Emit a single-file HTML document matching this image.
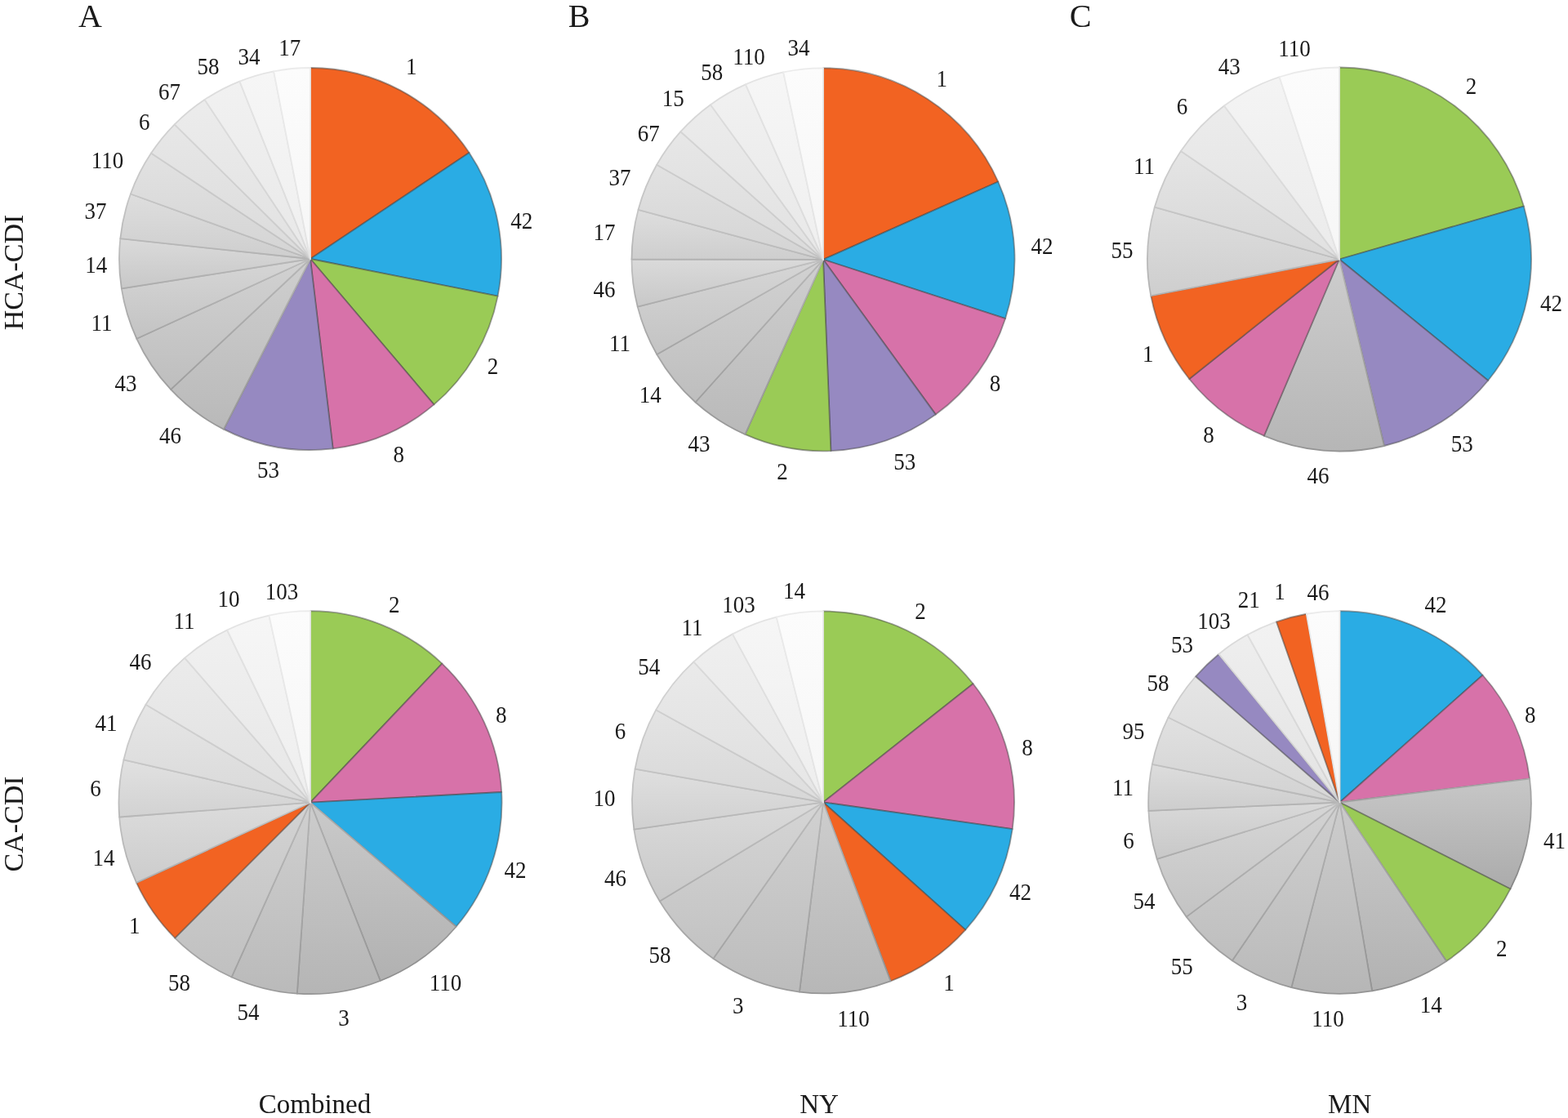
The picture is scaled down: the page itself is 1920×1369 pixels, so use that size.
<!DOCTYPE html>
<html><head><meta charset="utf-8"><title>Pie charts</title>
<style>
html,body{margin:0;padding:0;background:#fff;}
body{width:1920px;height:1369px;overflow:hidden;}
svg{display:block;}
text{font-family:"Liberation Serif",serif;fill:#1a1a1a;text-anchor:middle;}
.l{font-size:30px;}
.p{font-size:40px;}
.r{font-size:33px;}
.rv{font-size:34px;}
</style></head><body>
<svg width="1920" height="1369" viewBox="0 0 1920 1369">
<defs><linearGradient id="g1" x1="0" y1="0" x2="0" y2="1"><stop offset="0" stop-color="#cfcfcf"/><stop offset="1" stop-color="#b9b9b9"/></linearGradient><linearGradient id="g1s" x1="0" y1="0" x2="0" y2="1"><stop offset="0" stop-color="#b3b3b3"/><stop offset="1" stop-color="#989898"/></linearGradient><linearGradient id="g2" x1="0" y1="0" x2="0" y2="1"><stop offset="0" stop-color="#d2d2d2"/><stop offset="1" stop-color="#bebebe"/></linearGradient><linearGradient id="g2s" x1="0" y1="0" x2="0" y2="1"><stop offset="0" stop-color="#b7b7b7"/><stop offset="1" stop-color="#9e9e9e"/></linearGradient><linearGradient id="g3" x1="0" y1="0" x2="0" y2="1"><stop offset="0" stop-color="#d6d6d6"/><stop offset="1" stop-color="#c3c3c3"/></linearGradient><linearGradient id="g3s" x1="0" y1="0" x2="0" y2="1"><stop offset="0" stop-color="#bcbcbc"/><stop offset="1" stop-color="#a4a4a4"/></linearGradient><linearGradient id="g4" x1="0" y1="0" x2="0" y2="1"><stop offset="0" stop-color="#dadada"/><stop offset="1" stop-color="#c8c8c8"/></linearGradient><linearGradient id="g4s" x1="0" y1="0" x2="0" y2="1"><stop offset="0" stop-color="#c1c1c1"/><stop offset="1" stop-color="#ababab"/></linearGradient><linearGradient id="g5" x1="0" y1="0" x2="0" y2="1"><stop offset="0" stop-color="#dedede"/><stop offset="1" stop-color="#cecece"/></linearGradient><linearGradient id="g5s" x1="0" y1="0" x2="0" y2="1"><stop offset="0" stop-color="#c6c6c6"/><stop offset="1" stop-color="#b2b2b2"/></linearGradient><linearGradient id="g6" x1="0" y1="0" x2="0" y2="1"><stop offset="0" stop-color="#e2e2e2"/><stop offset="1" stop-color="#d4d4d4"/></linearGradient><linearGradient id="g6s" x1="0" y1="0" x2="0" y2="1"><stop offset="0" stop-color="#cbcbcb"/><stop offset="1" stop-color="#bababa"/></linearGradient><linearGradient id="g7" x1="0" y1="0" x2="0" y2="1"><stop offset="0" stop-color="#e7e7e7"/><stop offset="1" stop-color="#dbdbdb"/></linearGradient><linearGradient id="g7s" x1="0" y1="0" x2="0" y2="1"><stop offset="0" stop-color="#d1d1d1"/><stop offset="1" stop-color="#c2c2c2"/></linearGradient><linearGradient id="g8" x1="0" y1="0" x2="0" y2="1"><stop offset="0" stop-color="#ececec"/><stop offset="1" stop-color="#e1e1e1"/></linearGradient><linearGradient id="g8s" x1="0" y1="0" x2="0" y2="1"><stop offset="0" stop-color="#d7d7d7"/><stop offset="1" stop-color="#cacaca"/></linearGradient><linearGradient id="g9" x1="0" y1="0" x2="0" y2="1"><stop offset="0" stop-color="#f1f1f1"/><stop offset="1" stop-color="#e8e8e8"/></linearGradient><linearGradient id="g9s" x1="0" y1="0" x2="0" y2="1"><stop offset="0" stop-color="#dedede"/><stop offset="1" stop-color="#d2d2d2"/></linearGradient><linearGradient id="g10" x1="0" y1="0" x2="0" y2="1"><stop offset="0" stop-color="#f6f6f6"/><stop offset="1" stop-color="#efefef"/></linearGradient><linearGradient id="g10s" x1="0" y1="0" x2="0" y2="1"><stop offset="0" stop-color="#e4e4e4"/><stop offset="1" stop-color="#dbdbdb"/></linearGradient><linearGradient id="g11" x1="0" y1="0" x2="0" y2="1"><stop offset="0" stop-color="#fcfcfc"/><stop offset="1" stop-color="#f6f6f6"/></linearGradient><linearGradient id="g11s" x1="0" y1="0" x2="0" y2="1"><stop offset="0" stop-color="#ebebeb"/><stop offset="1" stop-color="#e4e4e4"/></linearGradient><linearGradient id="g12" x1="0" y1="0" x2="0" y2="1"><stop offset="0" stop-color="#cfcfcf"/><stop offset="1" stop-color="#b9b9b9"/></linearGradient><linearGradient id="g12s" x1="0" y1="0" x2="0" y2="1"><stop offset="0" stop-color="#b3b3b3"/><stop offset="1" stop-color="#989898"/></linearGradient><linearGradient id="g13" x1="0" y1="0" x2="0" y2="1"><stop offset="0" stop-color="#d2d2d2"/><stop offset="1" stop-color="#bebebe"/></linearGradient><linearGradient id="g13s" x1="0" y1="0" x2="0" y2="1"><stop offset="0" stop-color="#b7b7b7"/><stop offset="1" stop-color="#9e9e9e"/></linearGradient><linearGradient id="g14" x1="0" y1="0" x2="0" y2="1"><stop offset="0" stop-color="#d6d6d6"/><stop offset="1" stop-color="#c3c3c3"/></linearGradient><linearGradient id="g14s" x1="0" y1="0" x2="0" y2="1"><stop offset="0" stop-color="#bcbcbc"/><stop offset="1" stop-color="#a4a4a4"/></linearGradient><linearGradient id="g15" x1="0" y1="0" x2="0" y2="1"><stop offset="0" stop-color="#dadada"/><stop offset="1" stop-color="#c8c8c8"/></linearGradient><linearGradient id="g15s" x1="0" y1="0" x2="0" y2="1"><stop offset="0" stop-color="#c1c1c1"/><stop offset="1" stop-color="#ababab"/></linearGradient><linearGradient id="g16" x1="0" y1="0" x2="0" y2="1"><stop offset="0" stop-color="#dedede"/><stop offset="1" stop-color="#cecece"/></linearGradient><linearGradient id="g16s" x1="0" y1="0" x2="0" y2="1"><stop offset="0" stop-color="#c6c6c6"/><stop offset="1" stop-color="#b2b2b2"/></linearGradient><linearGradient id="g17" x1="0" y1="0" x2="0" y2="1"><stop offset="0" stop-color="#e2e2e2"/><stop offset="1" stop-color="#d4d4d4"/></linearGradient><linearGradient id="g17s" x1="0" y1="0" x2="0" y2="1"><stop offset="0" stop-color="#cbcbcb"/><stop offset="1" stop-color="#bababa"/></linearGradient><linearGradient id="g18" x1="0" y1="0" x2="0" y2="1"><stop offset="0" stop-color="#e7e7e7"/><stop offset="1" stop-color="#dbdbdb"/></linearGradient><linearGradient id="g18s" x1="0" y1="0" x2="0" y2="1"><stop offset="0" stop-color="#d1d1d1"/><stop offset="1" stop-color="#c2c2c2"/></linearGradient><linearGradient id="g19" x1="0" y1="0" x2="0" y2="1"><stop offset="0" stop-color="#ececec"/><stop offset="1" stop-color="#e1e1e1"/></linearGradient><linearGradient id="g19s" x1="0" y1="0" x2="0" y2="1"><stop offset="0" stop-color="#d7d7d7"/><stop offset="1" stop-color="#cacaca"/></linearGradient><linearGradient id="g20" x1="0" y1="0" x2="0" y2="1"><stop offset="0" stop-color="#f1f1f1"/><stop offset="1" stop-color="#e8e8e8"/></linearGradient><linearGradient id="g20s" x1="0" y1="0" x2="0" y2="1"><stop offset="0" stop-color="#dedede"/><stop offset="1" stop-color="#d2d2d2"/></linearGradient><linearGradient id="g21" x1="0" y1="0" x2="0" y2="1"><stop offset="0" stop-color="#f6f6f6"/><stop offset="1" stop-color="#efefef"/></linearGradient><linearGradient id="g21s" x1="0" y1="0" x2="0" y2="1"><stop offset="0" stop-color="#e4e4e4"/><stop offset="1" stop-color="#dbdbdb"/></linearGradient><linearGradient id="g22" x1="0" y1="0" x2="0" y2="1"><stop offset="0" stop-color="#fcfcfc"/><stop offset="1" stop-color="#f6f6f6"/></linearGradient><linearGradient id="g22s" x1="0" y1="0" x2="0" y2="1"><stop offset="0" stop-color="#ebebeb"/><stop offset="1" stop-color="#e4e4e4"/></linearGradient><linearGradient id="g23" x1="0" y1="0" x2="0" y2="1"><stop offset="0" stop-color="#cdcdcd"/><stop offset="1" stop-color="#b6b6b6"/></linearGradient><linearGradient id="g23s" x1="0" y1="0" x2="0" y2="1"><stop offset="0" stop-color="#b1b1b1"/><stop offset="1" stop-color="#959595"/></linearGradient><linearGradient id="g24" x1="0" y1="0" x2="0" y2="1"><stop offset="0" stop-color="#dedede"/><stop offset="1" stop-color="#cecece"/></linearGradient><linearGradient id="g24s" x1="0" y1="0" x2="0" y2="1"><stop offset="0" stop-color="#c6c6c6"/><stop offset="1" stop-color="#b2b2b2"/></linearGradient><linearGradient id="g25" x1="0" y1="0" x2="0" y2="1"><stop offset="0" stop-color="#e5e5e5"/><stop offset="1" stop-color="#d7d7d7"/></linearGradient><linearGradient id="g25s" x1="0" y1="0" x2="0" y2="1"><stop offset="0" stop-color="#cecece"/><stop offset="1" stop-color="#bebebe"/></linearGradient><linearGradient id="g26" x1="0" y1="0" x2="0" y2="1"><stop offset="0" stop-color="#ececec"/><stop offset="1" stop-color="#e1e1e1"/></linearGradient><linearGradient id="g26s" x1="0" y1="0" x2="0" y2="1"><stop offset="0" stop-color="#d7d7d7"/><stop offset="1" stop-color="#cacaca"/></linearGradient><linearGradient id="g27" x1="0" y1="0" x2="0" y2="1"><stop offset="0" stop-color="#f4f4f4"/><stop offset="1" stop-color="#ebebeb"/></linearGradient><linearGradient id="g27s" x1="0" y1="0" x2="0" y2="1"><stop offset="0" stop-color="#e1e1e1"/><stop offset="1" stop-color="#d7d7d7"/></linearGradient><linearGradient id="g28" x1="0" y1="0" x2="0" y2="1"><stop offset="0" stop-color="#fcfcfc"/><stop offset="1" stop-color="#f6f6f6"/></linearGradient><linearGradient id="g28s" x1="0" y1="0" x2="0" y2="1"><stop offset="0" stop-color="#ebebeb"/><stop offset="1" stop-color="#e4e4e4"/></linearGradient><linearGradient id="g29" x1="0" y1="0" x2="0" y2="1"><stop offset="0" stop-color="#cacaca"/><stop offset="1" stop-color="#b1b1b1"/></linearGradient><linearGradient id="g29s" x1="0" y1="0" x2="0" y2="1"><stop offset="0" stop-color="#adadad"/><stop offset="1" stop-color="#8e8e8e"/></linearGradient><linearGradient id="g30" x1="0" y1="0" x2="0" y2="1"><stop offset="0" stop-color="#cccccc"/><stop offset="1" stop-color="#b5b5b5"/></linearGradient><linearGradient id="g30s" x1="0" y1="0" x2="0" y2="1"><stop offset="0" stop-color="#b0b0b0"/><stop offset="1" stop-color="#949494"/></linearGradient><linearGradient id="g31" x1="0" y1="0" x2="0" y2="1"><stop offset="0" stop-color="#d0d0d0"/><stop offset="1" stop-color="#bababa"/></linearGradient><linearGradient id="g31s" x1="0" y1="0" x2="0" y2="1"><stop offset="0" stop-color="#b4b4b4"/><stop offset="1" stop-color="#9a9a9a"/></linearGradient><linearGradient id="g32" x1="0" y1="0" x2="0" y2="1"><stop offset="0" stop-color="#d3d3d3"/><stop offset="1" stop-color="#c0c0c0"/></linearGradient><linearGradient id="g32s" x1="0" y1="0" x2="0" y2="1"><stop offset="0" stop-color="#b9b9b9"/><stop offset="1" stop-color="#a1a1a1"/></linearGradient><linearGradient id="g33" x1="0" y1="0" x2="0" y2="1"><stop offset="0" stop-color="#dcdcdc"/><stop offset="1" stop-color="#cccccc"/></linearGradient><linearGradient id="g33s" x1="0" y1="0" x2="0" y2="1"><stop offset="0" stop-color="#c3c3c3"/><stop offset="1" stop-color="#afafaf"/></linearGradient><linearGradient id="g34" x1="0" y1="0" x2="0" y2="1"><stop offset="0" stop-color="#e1e1e1"/><stop offset="1" stop-color="#d2d2d2"/></linearGradient><linearGradient id="g34s" x1="0" y1="0" x2="0" y2="1"><stop offset="0" stop-color="#c9c9c9"/><stop offset="1" stop-color="#b7b7b7"/></linearGradient><linearGradient id="g35" x1="0" y1="0" x2="0" y2="1"><stop offset="0" stop-color="#e6e6e6"/><stop offset="1" stop-color="#d9d9d9"/></linearGradient><linearGradient id="g35s" x1="0" y1="0" x2="0" y2="1"><stop offset="0" stop-color="#cfcfcf"/><stop offset="1" stop-color="#c0c0c0"/></linearGradient><linearGradient id="g36" x1="0" y1="0" x2="0" y2="1"><stop offset="0" stop-color="#ebebeb"/><stop offset="1" stop-color="#e0e0e0"/></linearGradient><linearGradient id="g36s" x1="0" y1="0" x2="0" y2="1"><stop offset="0" stop-color="#d6d6d6"/><stop offset="1" stop-color="#c8c8c8"/></linearGradient><linearGradient id="g37" x1="0" y1="0" x2="0" y2="1"><stop offset="0" stop-color="#f0f0f0"/><stop offset="1" stop-color="#e7e7e7"/></linearGradient><linearGradient id="g37s" x1="0" y1="0" x2="0" y2="1"><stop offset="0" stop-color="#dddddd"/><stop offset="1" stop-color="#d1d1d1"/></linearGradient><linearGradient id="g38" x1="0" y1="0" x2="0" y2="1"><stop offset="0" stop-color="#f6f6f6"/><stop offset="1" stop-color="#eeeeee"/></linearGradient><linearGradient id="g38s" x1="0" y1="0" x2="0" y2="1"><stop offset="0" stop-color="#e4e4e4"/><stop offset="1" stop-color="#dadada"/></linearGradient><linearGradient id="g39" x1="0" y1="0" x2="0" y2="1"><stop offset="0" stop-color="#fcfcfc"/><stop offset="1" stop-color="#f6f6f6"/></linearGradient><linearGradient id="g39s" x1="0" y1="0" x2="0" y2="1"><stop offset="0" stop-color="#ebebeb"/><stop offset="1" stop-color="#e4e4e4"/></linearGradient><linearGradient id="g40" x1="0" y1="0" x2="0" y2="1"><stop offset="0" stop-color="#cdcdcd"/><stop offset="1" stop-color="#b7b7b7"/></linearGradient><linearGradient id="g40s" x1="0" y1="0" x2="0" y2="1"><stop offset="0" stop-color="#b2b2b2"/><stop offset="1" stop-color="#959595"/></linearGradient><linearGradient id="g41" x1="0" y1="0" x2="0" y2="1"><stop offset="0" stop-color="#d1d1d1"/><stop offset="1" stop-color="#bcbcbc"/></linearGradient><linearGradient id="g41s" x1="0" y1="0" x2="0" y2="1"><stop offset="0" stop-color="#b6b6b6"/><stop offset="1" stop-color="#9c9c9c"/></linearGradient><linearGradient id="g42" x1="0" y1="0" x2="0" y2="1"><stop offset="0" stop-color="#d5d5d5"/><stop offset="1" stop-color="#c2c2c2"/></linearGradient><linearGradient id="g42s" x1="0" y1="0" x2="0" y2="1"><stop offset="0" stop-color="#bbbbbb"/><stop offset="1" stop-color="#a4a4a4"/></linearGradient><linearGradient id="g43" x1="0" y1="0" x2="0" y2="1"><stop offset="0" stop-color="#dadada"/><stop offset="1" stop-color="#c9c9c9"/></linearGradient><linearGradient id="g43s" x1="0" y1="0" x2="0" y2="1"><stop offset="0" stop-color="#c1c1c1"/><stop offset="1" stop-color="#acacac"/></linearGradient><linearGradient id="g44" x1="0" y1="0" x2="0" y2="1"><stop offset="0" stop-color="#dfdfdf"/><stop offset="1" stop-color="#d0d0d0"/></linearGradient><linearGradient id="g44s" x1="0" y1="0" x2="0" y2="1"><stop offset="0" stop-color="#c7c7c7"/><stop offset="1" stop-color="#b4b4b4"/></linearGradient><linearGradient id="g45" x1="0" y1="0" x2="0" y2="1"><stop offset="0" stop-color="#e4e4e4"/><stop offset="1" stop-color="#d7d7d7"/></linearGradient><linearGradient id="g45s" x1="0" y1="0" x2="0" y2="1"><stop offset="0" stop-color="#cecece"/><stop offset="1" stop-color="#bdbdbd"/></linearGradient><linearGradient id="g46" x1="0" y1="0" x2="0" y2="1"><stop offset="0" stop-color="#eaeaea"/><stop offset="1" stop-color="#dedede"/></linearGradient><linearGradient id="g46s" x1="0" y1="0" x2="0" y2="1"><stop offset="0" stop-color="#d4d4d4"/><stop offset="1" stop-color="#c6c6c6"/></linearGradient><linearGradient id="g47" x1="0" y1="0" x2="0" y2="1"><stop offset="0" stop-color="#efefef"/><stop offset="1" stop-color="#e6e6e6"/></linearGradient><linearGradient id="g47s" x1="0" y1="0" x2="0" y2="1"><stop offset="0" stop-color="#dcdcdc"/><stop offset="1" stop-color="#d0d0d0"/></linearGradient><linearGradient id="g48" x1="0" y1="0" x2="0" y2="1"><stop offset="0" stop-color="#f6f6f6"/><stop offset="1" stop-color="#eeeeee"/></linearGradient><linearGradient id="g48s" x1="0" y1="0" x2="0" y2="1"><stop offset="0" stop-color="#e3e3e3"/><stop offset="1" stop-color="#dadada"/></linearGradient><linearGradient id="g49" x1="0" y1="0" x2="0" y2="1"><stop offset="0" stop-color="#fcfcfc"/><stop offset="1" stop-color="#f6f6f6"/></linearGradient><linearGradient id="g49s" x1="0" y1="0" x2="0" y2="1"><stop offset="0" stop-color="#ebebeb"/><stop offset="1" stop-color="#e4e4e4"/></linearGradient><linearGradient id="g50" x1="0" y1="0" x2="0" y2="1"><stop offset="0" stop-color="#c7c7c7"/><stop offset="1" stop-color="#ababab"/></linearGradient><linearGradient id="g50s" x1="0" y1="0" x2="0" y2="1"><stop offset="0" stop-color="#a9a9a9"/><stop offset="1" stop-color="#878787"/></linearGradient><linearGradient id="g51" x1="0" y1="0" x2="0" y2="1"><stop offset="0" stop-color="#cacaca"/><stop offset="1" stop-color="#b2b2b2"/></linearGradient><linearGradient id="g51s" x1="0" y1="0" x2="0" y2="1"><stop offset="0" stop-color="#aeaeae"/><stop offset="1" stop-color="#909090"/></linearGradient><linearGradient id="g52" x1="0" y1="0" x2="0" y2="1"><stop offset="0" stop-color="#cdcdcd"/><stop offset="1" stop-color="#b6b6b6"/></linearGradient><linearGradient id="g52s" x1="0" y1="0" x2="0" y2="1"><stop offset="0" stop-color="#b1b1b1"/><stop offset="1" stop-color="#949494"/></linearGradient><linearGradient id="g53" x1="0" y1="0" x2="0" y2="1"><stop offset="0" stop-color="#d0d0d0"/><stop offset="1" stop-color="#bababa"/></linearGradient><linearGradient id="g53s" x1="0" y1="0" x2="0" y2="1"><stop offset="0" stop-color="#b4b4b4"/><stop offset="1" stop-color="#999999"/></linearGradient><linearGradient id="g54" x1="0" y1="0" x2="0" y2="1"><stop offset="0" stop-color="#d3d3d3"/><stop offset="1" stop-color="#bebebe"/></linearGradient><linearGradient id="g54s" x1="0" y1="0" x2="0" y2="1"><stop offset="0" stop-color="#b8b8b8"/><stop offset="1" stop-color="#9f9f9f"/></linearGradient><linearGradient id="g55" x1="0" y1="0" x2="0" y2="1"><stop offset="0" stop-color="#d6d6d6"/><stop offset="1" stop-color="#c3c3c3"/></linearGradient><linearGradient id="g55s" x1="0" y1="0" x2="0" y2="1"><stop offset="0" stop-color="#bcbcbc"/><stop offset="1" stop-color="#a5a5a5"/></linearGradient><linearGradient id="g56" x1="0" y1="0" x2="0" y2="1"><stop offset="0" stop-color="#d9d9d9"/><stop offset="1" stop-color="#c8c8c8"/></linearGradient><linearGradient id="g56s" x1="0" y1="0" x2="0" y2="1"><stop offset="0" stop-color="#c0c0c0"/><stop offset="1" stop-color="#ababab"/></linearGradient><linearGradient id="g57" x1="0" y1="0" x2="0" y2="1"><stop offset="0" stop-color="#dddddd"/><stop offset="1" stop-color="#cdcdcd"/></linearGradient><linearGradient id="g57s" x1="0" y1="0" x2="0" y2="1"><stop offset="0" stop-color="#c5c5c5"/><stop offset="1" stop-color="#b1b1b1"/></linearGradient><linearGradient id="g58" x1="0" y1="0" x2="0" y2="1"><stop offset="0" stop-color="#e1e1e1"/><stop offset="1" stop-color="#d2d2d2"/></linearGradient><linearGradient id="g58s" x1="0" y1="0" x2="0" y2="1"><stop offset="0" stop-color="#cacaca"/><stop offset="1" stop-color="#b8b8b8"/></linearGradient><linearGradient id="g59" x1="0" y1="0" x2="0" y2="1"><stop offset="0" stop-color="#e5e5e5"/><stop offset="1" stop-color="#d8d8d8"/></linearGradient><linearGradient id="g59s" x1="0" y1="0" x2="0" y2="1"><stop offset="0" stop-color="#cfcfcf"/><stop offset="1" stop-color="#bfbfbf"/></linearGradient><linearGradient id="g60" x1="0" y1="0" x2="0" y2="1"><stop offset="0" stop-color="#eeeeee"/><stop offset="1" stop-color="#e3e3e3"/></linearGradient><linearGradient id="g60s" x1="0" y1="0" x2="0" y2="1"><stop offset="0" stop-color="#dadada"/><stop offset="1" stop-color="#cdcdcd"/></linearGradient><linearGradient id="g61" x1="0" y1="0" x2="0" y2="1"><stop offset="0" stop-color="#f2f2f2"/><stop offset="1" stop-color="#e9e9e9"/></linearGradient><linearGradient id="g61s" x1="0" y1="0" x2="0" y2="1"><stop offset="0" stop-color="#dfdfdf"/><stop offset="1" stop-color="#d4d4d4"/></linearGradient><linearGradient id="g62" x1="0" y1="0" x2="0" y2="1"><stop offset="0" stop-color="#fcfcfc"/><stop offset="1" stop-color="#f6f6f6"/></linearGradient><linearGradient id="g62s" x1="0" y1="0" x2="0" y2="1"><stop offset="0" stop-color="#ebebeb"/><stop offset="1" stop-color="#e4e4e4"/></linearGradient></defs>
<rect width="1920" height="1369" fill="#fff"/>
<g><path d="M380.00 317.00L380.00 83.00A234.00 234.00 0 0 1 574.54 186.97Z" fill="#f26322" stroke="rgba(70,70,70,0.5)" stroke-width="1.8" stroke-linejoin="round"/><path d="M380.00 317.00L574.54 186.97A234.00 234.00 0 0 1 609.51 362.62Z" fill="#2aace4" stroke="rgba(70,70,70,0.5)" stroke-width="1.8" stroke-linejoin="round"/><path d="M380.00 317.00L609.51 362.62A234.00 234.00 0 0 1 531.39 495.43Z" fill="#9acb56" stroke="rgba(70,70,70,0.5)" stroke-width="1.8" stroke-linejoin="round"/><path d="M380.00 317.00L531.39 495.43A234.00 234.00 0 0 1 407.68 549.36Z" fill="#d772a9" stroke="rgba(70,70,70,0.5)" stroke-width="1.8" stroke-linejoin="round"/><path d="M380.00 317.00L407.68 549.36A234.00 234.00 0 0 1 273.95 525.59Z" fill="#9689c1" stroke="rgba(70,70,70,0.5)" stroke-width="1.8" stroke-linejoin="round"/><path d="M380.00 317.00L273.95 525.59A234.00 234.00 0 0 1 209.18 476.93Z" fill="url(#g1)" stroke="url(#g1s)" stroke-width="1.8" stroke-linejoin="round"/><path d="M380.00 317.00L209.18 476.93A234.00 234.00 0 0 1 167.39 414.75Z" fill="url(#g2)" stroke="url(#g2s)" stroke-width="1.8" stroke-linejoin="round"/><path d="M380.00 317.00L167.39 414.75A234.00 234.00 0 0 1 148.85 353.40Z" fill="url(#g3)" stroke="url(#g3s)" stroke-width="1.8" stroke-linejoin="round"/><path d="M380.00 317.00L148.85 353.40A234.00 234.00 0 0 1 147.32 292.21Z" fill="url(#g4)" stroke="url(#g4s)" stroke-width="1.8" stroke-linejoin="round"/><path d="M380.00 317.00L147.32 292.21A234.00 234.00 0 0 1 159.92 237.48Z" fill="url(#g5)" stroke="url(#g5s)" stroke-width="1.8" stroke-linejoin="round"/><path d="M380.00 317.00L159.92 237.48A234.00 234.00 0 0 1 185.05 187.57Z" fill="url(#g6)" stroke="url(#g6s)" stroke-width="1.8" stroke-linejoin="round"/><path d="M380.00 317.00L185.05 187.57A234.00 234.00 0 0 1 213.78 152.30Z" fill="url(#g7)" stroke="url(#g7s)" stroke-width="1.8" stroke-linejoin="round"/><path d="M380.00 317.00L213.78 152.30A234.00 234.00 0 0 1 250.62 122.02Z" fill="url(#g8)" stroke="url(#g8s)" stroke-width="1.8" stroke-linejoin="round"/><path d="M380.00 317.00L250.62 122.02A234.00 234.00 0 0 1 293.43 99.60Z" fill="url(#g9)" stroke="url(#g9s)" stroke-width="1.8" stroke-linejoin="round"/><path d="M380.00 317.00L293.43 99.60A234.00 234.00 0 0 1 335.19 87.33Z" fill="url(#g10)" stroke="url(#g10s)" stroke-width="1.8" stroke-linejoin="round"/><path d="M380.00 317.00L335.19 87.33A234.00 234.00 0 0 1 380.00 83.00Z" fill="url(#g11)" stroke="url(#g11s)" stroke-width="1.8" stroke-linejoin="round"/></g>
<text transform="translate(354.7 67.9) scale(0.9 1)" class="l">17</text>
<text transform="translate(304.9 79.2) scale(0.9 1)" class="l">34</text>
<text transform="translate(255.0 91.4) scale(0.9 1)" class="l">58</text>
<text transform="translate(207.5 122.2) scale(0.9 1)" class="l">67</text>
<text transform="translate(176.7 158.5) scale(0.9 1)" class="l">6</text>
<text transform="translate(131.4 206.0) scale(0.9 1)" class="l">110</text>
<text transform="translate(116.9 268.1) scale(0.9 1)" class="l">37</text>
<text transform="translate(117.8 334.2) scale(0.9 1)" class="l">14</text>
<text transform="translate(124.6 404.5) scale(0.9 1)" class="l">11</text>
<text transform="translate(154.0 478.7) scale(0.9 1)" class="l">43</text>
<text transform="translate(208.4 542.6) scale(0.9 1)" class="l">46</text>
<text transform="translate(328.4 585.2) scale(0.9 1)" class="l">53</text>
<text transform="translate(488.3 566.2) scale(0.9 1)" class="l">8</text>
<text transform="translate(603.4 458.4) scale(0.9 1)" class="l">2</text>
<text transform="translate(638.7 279.9) scale(0.9 1)" class="l">42</text>
<text transform="translate(503.7 90.5) scale(0.9 1)" class="l">1</text>
<g><path d="M1008.00 317.80L1008.00 83.30A234.50 234.50 0 0 1 1222.27 222.51Z" fill="#f26322" stroke="rgba(70,70,70,0.5)" stroke-width="1.8" stroke-linejoin="round"/><path d="M1008.00 317.80L1222.27 222.51A234.50 234.50 0 0 1 1231.09 390.05Z" fill="#2aace4" stroke="rgba(70,70,70,0.5)" stroke-width="1.8" stroke-linejoin="round"/><path d="M1008.00 317.80L1231.09 390.05A234.50 234.50 0 0 1 1145.72 507.60Z" fill="#d772a9" stroke="rgba(70,70,70,0.5)" stroke-width="1.8" stroke-linejoin="round"/><path d="M1008.00 317.80L1145.72 507.60A234.50 234.50 0 0 1 1017.38 552.11Z" fill="#9689c1" stroke="rgba(70,70,70,0.5)" stroke-width="1.8" stroke-linejoin="round"/><path d="M1008.00 317.80L1017.38 552.11A234.50 234.50 0 0 1 912.39 531.92Z" fill="#9acb56" stroke="rgba(70,70,70,0.5)" stroke-width="1.8" stroke-linejoin="round"/><path d="M1008.00 317.80L912.39 531.92A234.50 234.50 0 0 1 851.56 492.49Z" fill="url(#g12)" stroke="url(#g12s)" stroke-width="1.8" stroke-linejoin="round"/><path d="M1008.00 317.80L851.56 492.49A234.50 234.50 0 0 1 804.35 434.06Z" fill="url(#g13)" stroke="url(#g13s)" stroke-width="1.8" stroke-linejoin="round"/><path d="M1008.00 317.80L804.35 434.06A234.50 234.50 0 0 1 780.73 375.57Z" fill="url(#g14)" stroke="url(#g14s)" stroke-width="1.8" stroke-linejoin="round"/><path d="M1008.00 317.80L780.73 375.57A234.50 234.50 0 0 1 773.50 317.50Z" fill="url(#g15)" stroke="url(#g15s)" stroke-width="1.8" stroke-linejoin="round"/><path d="M1008.00 317.80L773.50 317.50A234.50 234.50 0 0 1 781.54 256.92Z" fill="url(#g16)" stroke="url(#g16s)" stroke-width="1.8" stroke-linejoin="round"/><path d="M1008.00 317.80L781.54 256.92A234.50 234.50 0 0 1 804.21 201.78Z" fill="url(#g17)" stroke="url(#g17s)" stroke-width="1.8" stroke-linejoin="round"/><path d="M1008.00 317.80L804.21 201.78A234.50 234.50 0 0 1 833.45 161.21Z" fill="url(#g18)" stroke="url(#g18s)" stroke-width="1.8" stroke-linejoin="round"/><path d="M1008.00 317.80L833.45 161.21A234.50 234.50 0 0 1 870.04 128.18Z" fill="url(#g19)" stroke="url(#g19s)" stroke-width="1.8" stroke-linejoin="round"/><path d="M1008.00 317.80L870.04 128.18A234.50 234.50 0 0 1 912.98 103.41Z" fill="url(#g20)" stroke="url(#g20s)" stroke-width="1.8" stroke-linejoin="round"/><path d="M1008.00 317.80L912.98 103.41A234.50 234.50 0 0 1 959.25 88.42Z" fill="url(#g21)" stroke="url(#g21s)" stroke-width="1.8" stroke-linejoin="round"/><path d="M1008.00 317.80L959.25 88.42A234.50 234.50 0 0 1 1008.00 83.30Z" fill="url(#g22)" stroke="url(#g22s)" stroke-width="1.8" stroke-linejoin="round"/></g>
<text transform="translate(1153.3 105.8) scale(0.9 1)" class="l">1</text>
<text transform="translate(1276.0 311.0) scale(0.9 1)" class="l">42</text>
<text transform="translate(1218.6 479.2) scale(0.9 1)" class="l">8</text>
<text transform="translate(1107.7 575.0) scale(0.9 1)" class="l">53</text>
<text transform="translate(958.0 587.0) scale(0.9 1)" class="l">2</text>
<text transform="translate(855.9 553.3) scale(0.9 1)" class="l">43</text>
<text transform="translate(796.2 492.5) scale(0.9 1)" class="l">14</text>
<text transform="translate(759.0 429.8) scale(0.9 1)" class="l">11</text>
<text transform="translate(740.0 364.0) scale(0.9 1)" class="l">46</text>
<text transform="translate(740.0 294.0) scale(0.9 1)" class="l">17</text>
<text transform="translate(759.0 226.6) scale(0.9 1)" class="l">37</text>
<text transform="translate(794.3 172.7) scale(0.9 1)" class="l">67</text>
<text transform="translate(824.3 129.8) scale(0.9 1)" class="l">15</text>
<text transform="translate(871.8 97.5) scale(0.9 1)" class="l">58</text>
<text transform="translate(917.0 79.0) scale(0.9 1)" class="l">110</text>
<text transform="translate(978.0 67.6) scale(0.9 1)" class="l">34</text>
<g><path d="M1640.00 317.50L1640.00 82.50A235.00 235.00 0 0 1 1865.85 252.55Z" fill="#9acb56" stroke="rgba(70,70,70,0.5)" stroke-width="1.8" stroke-linejoin="round"/><path d="M1640.00 317.50L1865.85 252.55A235.00 235.00 0 0 1 1822.12 466.02Z" fill="#2aace4" stroke="rgba(70,70,70,0.5)" stroke-width="1.8" stroke-linejoin="round"/><path d="M1640.00 317.50L1822.12 466.02A235.00 235.00 0 0 1 1694.91 546.00Z" fill="#9689c1" stroke="rgba(70,70,70,0.5)" stroke-width="1.8" stroke-linejoin="round"/><path d="M1640.00 317.50L1694.91 546.00A235.00 235.00 0 0 1 1547.86 533.68Z" fill="url(#g23)" stroke="url(#g23s)" stroke-width="1.8" stroke-linejoin="round"/><path d="M1640.00 317.50L1547.86 533.68A235.00 235.00 0 0 1 1456.21 463.95Z" fill="#d772a9" stroke="rgba(70,70,70,0.5)" stroke-width="1.8" stroke-linejoin="round"/><path d="M1640.00 317.50L1456.21 463.95A235.00 235.00 0 0 1 1409.29 362.21Z" fill="#f26322" stroke="rgba(70,70,70,0.5)" stroke-width="1.8" stroke-linejoin="round"/><path d="M1640.00 317.50L1409.29 362.21A235.00 235.00 0 0 1 1413.85 253.60Z" fill="url(#g24)" stroke="url(#g24s)" stroke-width="1.8" stroke-linejoin="round"/><path d="M1640.00 317.50L1413.85 253.60A235.00 235.00 0 0 1 1445.96 184.93Z" fill="url(#g25)" stroke="url(#g25s)" stroke-width="1.8" stroke-linejoin="round"/><path d="M1640.00 317.50L1445.96 184.93A235.00 235.00 0 0 1 1499.00 129.50Z" fill="url(#g26)" stroke="url(#g26s)" stroke-width="1.8" stroke-linejoin="round"/><path d="M1640.00 317.50L1499.00 129.50A235.00 235.00 0 0 1 1566.65 94.24Z" fill="url(#g27)" stroke="url(#g27s)" stroke-width="1.8" stroke-linejoin="round"/><path d="M1640.00 317.50L1566.65 94.24A235.00 235.00 0 0 1 1640.00 82.50Z" fill="url(#g28)" stroke="url(#g28s)" stroke-width="1.8" stroke-linejoin="round"/></g>
<text transform="translate(1801.6 115.3) scale(0.9 1)" class="l">2</text>
<text transform="translate(1899.4 381.0) scale(0.9 1)" class="l">42</text>
<text transform="translate(1790.2 553.3) scale(0.9 1)" class="l">53</text>
<text transform="translate(1614.0 592.0) scale(0.9 1)" class="l">46</text>
<text transform="translate(1479.9 541.9) scale(0.9 1)" class="l">8</text>
<text transform="translate(1405.8 443.1) scale(0.9 1)" class="l">1</text>
<text transform="translate(1374.0 316.0) scale(0.9 1)" class="l">55</text>
<text transform="translate(1400.9 212.6) scale(0.9 1)" class="l">11</text>
<text transform="translate(1447.6 140.4) scale(0.9 1)" class="l">6</text>
<text transform="translate(1505.3 91.0) scale(0.9 1)" class="l">43</text>
<text transform="translate(1585.0 69.0) scale(0.9 1)" class="l">110</text>
<g><path d="M380.00 982.70L380.00 748.20A234.50 234.50 0 0 1 541.34 812.53Z" fill="#9acb56" stroke="rgba(70,70,70,0.5)" stroke-width="1.8" stroke-linejoin="round"/><path d="M380.00 982.70L541.34 812.53A234.50 234.50 0 0 1 614.15 969.98Z" fill="#d772a9" stroke="rgba(70,70,70,0.5)" stroke-width="1.8" stroke-linejoin="round"/><path d="M380.00 982.70L614.15 969.98A234.50 234.50 0 0 1 558.52 1134.76Z" fill="#2aace4" stroke="rgba(70,70,70,0.5)" stroke-width="1.8" stroke-linejoin="round"/><path d="M380.00 982.70L558.52 1134.76A234.50 234.50 0 0 1 465.68 1200.99Z" fill="url(#g29)" stroke="url(#g29s)" stroke-width="1.8" stroke-linejoin="round"/><path d="M380.00 982.70L465.68 1200.99A234.50 234.50 0 0 1 363.79 1216.64Z" fill="url(#g30)" stroke="url(#g30s)" stroke-width="1.8" stroke-linejoin="round"/><path d="M380.00 982.70L363.79 1216.64A234.50 234.50 0 0 1 283.63 1196.48Z" fill="url(#g31)" stroke="url(#g31s)" stroke-width="1.8" stroke-linejoin="round"/><path d="M380.00 982.70L283.63 1196.48A234.50 234.50 0 0 1 214.23 1148.57Z" fill="url(#g32)" stroke="url(#g32s)" stroke-width="1.8" stroke-linejoin="round"/><path d="M380.00 982.70L214.23 1148.57A234.50 234.50 0 0 1 167.06 1080.91Z" fill="#f26322" stroke="rgba(70,70,70,0.5)" stroke-width="1.8" stroke-linejoin="round"/><path d="M380.00 982.70L167.06 1080.91A234.50 234.50 0 0 1 146.18 1000.49Z" fill="url(#g33)" stroke="url(#g33s)" stroke-width="1.8" stroke-linejoin="round"/><path d="M380.00 982.70L146.18 1000.49A234.50 234.50 0 0 1 151.42 930.33Z" fill="url(#g34)" stroke="url(#g34s)" stroke-width="1.8" stroke-linejoin="round"/><path d="M380.00 982.70L151.42 930.33A234.50 234.50 0 0 1 178.52 862.72Z" fill="url(#g35)" stroke="url(#g35s)" stroke-width="1.8" stroke-linejoin="round"/><path d="M380.00 982.70L178.52 862.72A234.50 234.50 0 0 1 226.21 805.67Z" fill="url(#g36)" stroke="url(#g36s)" stroke-width="1.8" stroke-linejoin="round"/><path d="M380.00 982.70L226.21 805.67A234.50 234.50 0 0 1 278.10 771.50Z" fill="url(#g37)" stroke="url(#g37s)" stroke-width="1.8" stroke-linejoin="round"/><path d="M380.00 982.70L278.10 771.50A234.50 234.50 0 0 1 329.47 753.71Z" fill="url(#g38)" stroke="url(#g38s)" stroke-width="1.8" stroke-linejoin="round"/><path d="M380.00 982.70L329.47 753.71A234.50 234.50 0 0 1 380.00 748.20Z" fill="url(#g39)" stroke="url(#g39s)" stroke-width="1.8" stroke-linejoin="round"/></g>
<text transform="translate(482.7 750.0) scale(0.9 1)" class="l">2</text>
<text transform="translate(613.8 884.8) scale(0.9 1)" class="l">8</text>
<text transform="translate(631.0 1075.0) scale(0.9 1)" class="l">42</text>
<text transform="translate(545.4 1213.4) scale(0.9 1)" class="l">110</text>
<text transform="translate(421.0 1256.0) scale(0.9 1)" class="l">3</text>
<text transform="translate(304.0 1249.0) scale(0.9 1)" class="l">54</text>
<text transform="translate(219.5 1213.4) scale(0.9 1)" class="l">58</text>
<text transform="translate(164.8 1143.1) scale(0.9 1)" class="l">1</text>
<text transform="translate(127.0 1060.0) scale(0.9 1)" class="l">14</text>
<text transform="translate(117.0 975.0) scale(0.9 1)" class="l">6</text>
<text transform="translate(130.0 895.0) scale(0.9 1)" class="l">41</text>
<text transform="translate(172.0 820.2) scale(0.9 1)" class="l">46</text>
<text transform="translate(225.6 770.1) scale(0.9 1)" class="l">11</text>
<text transform="translate(280.0 743.0) scale(0.9 1)" class="l">10</text>
<text transform="translate(345.0 734.3) scale(0.9 1)" class="l">103</text>
<g><path d="M1008.00 982.40L1008.00 748.40A234.00 234.00 0 0 1 1191.57 837.29Z" fill="#9acb56" stroke="rgba(70,70,70,0.5)" stroke-width="1.8" stroke-linejoin="round"/><path d="M1008.00 982.40L1191.57 837.29A234.00 234.00 0 0 1 1239.71 1015.04Z" fill="#d772a9" stroke="rgba(70,70,70,0.5)" stroke-width="1.8" stroke-linejoin="round"/><path d="M1008.00 982.40L1239.71 1015.04A234.00 234.00 0 0 1 1182.19 1138.65Z" fill="#2aace4" stroke="rgba(70,70,70,0.5)" stroke-width="1.8" stroke-linejoin="round"/><path d="M1008.00 982.40L1182.19 1138.65A234.00 234.00 0 0 1 1090.49 1201.38Z" fill="#f26322" stroke="rgba(70,70,70,0.5)" stroke-width="1.8" stroke-linejoin="round"/><path d="M1008.00 982.40L1090.49 1201.38A234.00 234.00 0 0 1 978.95 1214.59Z" fill="url(#g40)" stroke="url(#g40s)" stroke-width="1.8" stroke-linejoin="round"/><path d="M1008.00 982.40L978.95 1214.59A234.00 234.00 0 0 1 873.42 1173.83Z" fill="url(#g41)" stroke="url(#g41s)" stroke-width="1.8" stroke-linejoin="round"/><path d="M1008.00 982.40L873.42 1173.83A234.00 234.00 0 0 1 807.83 1103.59Z" fill="url(#g42)" stroke="url(#g42s)" stroke-width="1.8" stroke-linejoin="round"/><path d="M1008.00 982.40L807.83 1103.59A234.00 234.00 0 0 1 776.37 1015.62Z" fill="url(#g43)" stroke="url(#g43s)" stroke-width="1.8" stroke-linejoin="round"/><path d="M1008.00 982.40L776.37 1015.62A234.00 234.00 0 0 1 777.57 941.69Z" fill="url(#g44)" stroke="url(#g44s)" stroke-width="1.8" stroke-linejoin="round"/><path d="M1008.00 982.40L777.57 941.69A234.00 234.00 0 0 1 803.14 869.32Z" fill="url(#g45)" stroke="url(#g45s)" stroke-width="1.8" stroke-linejoin="round"/><path d="M1008.00 982.40L803.14 869.32A234.00 234.00 0 0 1 849.42 810.32Z" fill="url(#g46)" stroke="url(#g46s)" stroke-width="1.8" stroke-linejoin="round"/><path d="M1008.00 982.40L849.42 810.32A234.00 234.00 0 0 1 897.02 776.39Z" fill="url(#g47)" stroke="url(#g47s)" stroke-width="1.8" stroke-linejoin="round"/><path d="M1008.00 982.40L897.02 776.39A234.00 234.00 0 0 1 950.75 755.51Z" fill="url(#g48)" stroke="url(#g48s)" stroke-width="1.8" stroke-linejoin="round"/><path d="M1008.00 982.40L950.75 755.51A234.00 234.00 0 0 1 1008.00 748.40Z" fill="url(#g49)" stroke="url(#g49s)" stroke-width="1.8" stroke-linejoin="round"/></g>
<text transform="translate(1127.1 757.9) scale(0.9 1)" class="l">2</text>
<text transform="translate(1258.0 925.0) scale(0.9 1)" class="l">8</text>
<text transform="translate(1249.4 1101.7) scale(0.9 1)" class="l">42</text>
<text transform="translate(1162.0 1213.4) scale(0.9 1)" class="l">1</text>
<text transform="translate(1045.0 1257.0) scale(0.9 1)" class="l">110</text>
<text transform="translate(903.7 1241.1) scale(0.9 1)" class="l">3</text>
<text transform="translate(808.0 1179.2) scale(0.9 1)" class="l">58</text>
<text transform="translate(753.5 1085.0) scale(0.9 1)" class="l">46</text>
<text transform="translate(740.0 987.0) scale(0.9 1)" class="l">10</text>
<text transform="translate(759.4 904.9) scale(0.9 1)" class="l">6</text>
<text transform="translate(794.7 826.3) scale(0.9 1)" class="l">54</text>
<text transform="translate(847.5 777.7) scale(0.9 1)" class="l">11</text>
<text transform="translate(904.5 750.0) scale(0.9 1)" class="l">103</text>
<text transform="translate(972.5 733.0) scale(0.9 1)" class="l">14</text>
<g><path d="M1640.50 982.50L1640.50 748.20A234.30 234.30 0 0 1 1815.54 826.75Z" fill="#2aace4" stroke="rgba(70,70,70,0.5)" stroke-width="1.8" stroke-linejoin="round"/><path d="M1640.50 982.50L1815.54 826.75A234.30 234.30 0 0 1 1873.01 953.56Z" fill="#d772a9" stroke="rgba(70,70,70,0.5)" stroke-width="1.8" stroke-linejoin="round"/><path d="M1640.50 982.50L1873.01 953.56A234.30 234.30 0 0 1 1849.48 1088.45Z" fill="url(#g50)" stroke="url(#g50s)" stroke-width="1.8" stroke-linejoin="round"/><path d="M1640.50 982.50L1849.48 1088.45A234.30 234.30 0 0 1 1771.02 1177.08Z" fill="#9acb56" stroke="rgba(70,70,70,0.5)" stroke-width="1.8" stroke-linejoin="round"/><path d="M1640.50 982.50L1771.02 1177.08A234.30 234.30 0 0 1 1680.15 1213.42Z" fill="url(#g51)" stroke="url(#g51s)" stroke-width="1.8" stroke-linejoin="round"/><path d="M1640.50 982.50L1680.15 1213.42A234.30 234.30 0 0 1 1581.32 1209.20Z" fill="url(#g52)" stroke="url(#g52s)" stroke-width="1.8" stroke-linejoin="round"/><path d="M1640.50 982.50L1581.32 1209.20A234.30 234.30 0 0 1 1508.87 1176.33Z" fill="url(#g53)" stroke="url(#g53s)" stroke-width="1.8" stroke-linejoin="round"/><path d="M1640.50 982.50L1508.87 1176.33A234.30 234.30 0 0 1 1452.73 1122.64Z" fill="url(#g54)" stroke="url(#g54s)" stroke-width="1.8" stroke-linejoin="round"/><path d="M1640.50 982.50L1452.73 1122.64A234.30 234.30 0 0 1 1416.71 1051.89Z" fill="url(#g55)" stroke="url(#g55s)" stroke-width="1.8" stroke-linejoin="round"/><path d="M1640.50 982.50L1416.71 1051.89A234.30 234.30 0 0 1 1406.43 992.84Z" fill="url(#g56)" stroke="url(#g56s)" stroke-width="1.8" stroke-linejoin="round"/><path d="M1640.50 982.50L1406.43 992.84A234.30 234.30 0 0 1 1410.91 935.76Z" fill="url(#g57)" stroke="url(#g57s)" stroke-width="1.8" stroke-linejoin="round"/><path d="M1640.50 982.50L1410.91 935.76A234.30 234.30 0 0 1 1430.58 878.44Z" fill="url(#g58)" stroke="url(#g58s)" stroke-width="1.8" stroke-linejoin="round"/><path d="M1640.50 982.50L1430.58 878.44A234.30 234.30 0 0 1 1464.11 828.28Z" fill="url(#g59)" stroke="url(#g59s)" stroke-width="1.8" stroke-linejoin="round"/><path d="M1640.50 982.50L1464.11 828.28A234.30 234.30 0 0 1 1492.40 800.94Z" fill="#9689c1" stroke="rgba(70,70,70,0.5)" stroke-width="1.8" stroke-linejoin="round"/><path d="M1640.50 982.50L1492.40 800.94A234.30 234.30 0 0 1 1527.56 777.22Z" fill="url(#g60)" stroke="url(#g60s)" stroke-width="1.8" stroke-linejoin="round"/><path d="M1640.50 982.50L1527.56 777.22A234.30 234.30 0 0 1 1562.96 761.40Z" fill="url(#g61)" stroke="url(#g61s)" stroke-width="1.8" stroke-linejoin="round"/><path d="M1640.50 982.50L1562.96 761.40A234.30 234.30 0 0 1 1599.80 751.76Z" fill="#f26322" stroke="rgba(70,70,70,0.5)" stroke-width="1.8" stroke-linejoin="round"/><path d="M1640.50 982.50L1599.80 751.76A234.30 234.30 0 0 1 1640.50 748.20Z" fill="url(#g62)" stroke="url(#g62s)" stroke-width="1.8" stroke-linejoin="round"/></g>
<text transform="translate(1757.9 750.0) scale(0.9 1)" class="l">42</text>
<text transform="translate(1873.8 884.8) scale(0.9 1)" class="l">8</text>
<text transform="translate(1903.5 1039.0) scale(0.9 1)" class="l">41</text>
<text transform="translate(1838.8 1170.8) scale(0.9 1)" class="l">2</text>
<text transform="translate(1752.2 1240.0) scale(0.9 1)" class="l">14</text>
<text transform="translate(1626.0 1257.0) scale(0.9 1)" class="l">110</text>
<text transform="translate(1520.5 1237.3) scale(0.9 1)" class="l">3</text>
<text transform="translate(1447.2 1192.8) scale(0.9 1)" class="l">55</text>
<text transform="translate(1400.9 1112.7) scale(0.9 1)" class="l">54</text>
<text transform="translate(1382.0 1039.0) scale(0.9 1)" class="l">6</text>
<text transform="translate(1375.0 974.0) scale(0.9 1)" class="l">11</text>
<text transform="translate(1388.0 905.0) scale(0.9 1)" class="l">95</text>
<text transform="translate(1418.0 846.0) scale(0.9 1)" class="l">58</text>
<text transform="translate(1447.6 799.3) scale(0.9 1)" class="l">53</text>
<text transform="translate(1486.4 770.1) scale(0.9 1)" class="l">103</text>
<text transform="translate(1529.3 743.5) scale(0.9 1)" class="l">21</text>
<text transform="translate(1567.0 734.0) scale(0.9 1)" class="l">1</text>
<text transform="translate(1614.0 734.5) scale(0.9 1)" class="l">46</text>
<text x="110.5" y="33.3" class="p">A</text>
<text x="709" y="33.3" class="p">B</text>
<text x="1323" y="33.3" class="p">C</text>
<text transform="translate(28 333.5) rotate(-90)" class="rv">HCA-CDI</text>
<text transform="translate(28 1009) rotate(-90)" class="rv">CA-CDI</text>
<text x="385.5" y="1362.7" class="r">Combined</text>
<text x="1003" y="1362.7" class="r">NY</text>
<text x="1652.7" y="1362.7" class="r">MN</text>
</svg>
</body></html>
